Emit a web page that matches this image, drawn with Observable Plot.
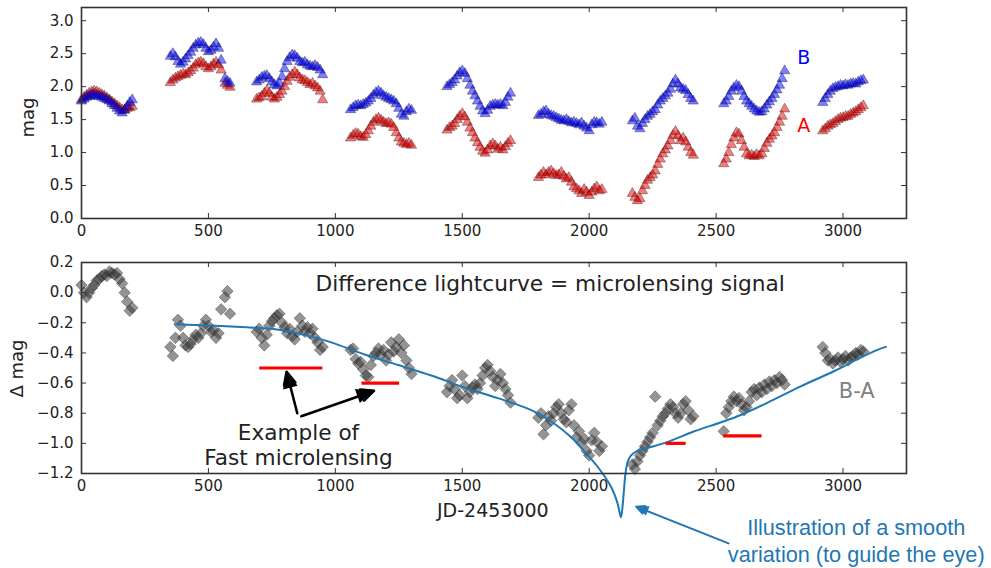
<!DOCTYPE html>
<html><head><meta charset="utf-8">
<script src="https://cdn.jsdelivr.net/npm/d3@7"></script>
<script src="https://cdn.jsdelivr.net/npm/@observablehq/plot@0.6"></script>
<style>
body{margin:0;background:#fff;}
#wrap{position:relative;width:991px;height:568px;overflow:hidden;font-family:"DejaVu Sans",sans-serif;background:#fff;}
#wrap svg{position:absolute;left:0;overflow:visible;}
.ax{position:absolute;color:#222;white-space:nowrap;font-family:"DejaVu Sans",sans-serif;}
</style></head><body><div id="wrap"></div>
<script>
// ---- data ----
const jd = [
 0,10,20,30,40,50,60,70,80,90,100,110,120,130,140,150,160,170,180,190,200,
 350,360,370,380,390,400,410,420,430,440,450,460,470,480,490,500,510,520,530,540,550,565,575,585,
 690,700,710,720,730,740,750,760,770,780,790,800,810,820,830,840,850,860,870,880,890,900,910,920,930,940,950,
 1060,1070,1080,1090,1100,1110,1120,1130,1140,1150,1160,1170,1180,1190,1200,1210,1220,1230,1240,1250,1260,1270,1280,1290,1300,
 1440,1450,1460,1470,1480,1490,1500,1510,1520,1530,1540,1550,1560,1570,1580,1590,1600,1610,1620,1630,1640,1650,1660,1670,1680,1690,
 1800,1810,1820,1830,1840,1850,1860,1870,1880,1890,1900,1910,1920,1930,1940,1950,1960,1970,1980,1990,2000,2010,2020,2030,2040,2050,
 2170,2180,2190,2200,2210,2220,2230,2240,2250,2260,2270,2280,2290,2300,2310,2320,2330,2340,2350,2360,2370,2380,2390,2400,2410,
 2530,2540,2550,2560,2570,2580,2590,2600,2610,2620,2630,2640,2650,2660,2670,2680,2690,2700,2710,2720,2730,2740,2750,2760,2770,
 2920,2930,2940,2950,2960,2970,2980,2990,3000,3010,3020,3030,3040,3050,3060,3070,3080
];
const magB = [
 1.78,1.81,1.84,1.85,1.87,1.88,1.86,1.85,1.84,1.82,1.80,1.78,1.74,1.71,1.67,1.63,1.60,1.64,1.70,1.76,1.80,
 2.46,2.50,2.45,2.38,2.34,2.37,2.42,2.47,2.52,2.58,2.63,2.66,2.67,2.64,2.58,2.53,2.55,2.60,2.65,2.58,2.40,2.12,2.08,2.05,
 2.07,2.10,2.14,2.16,2.17,2.12,2.07,2.03,2.01,2.05,2.15,2.27,2.38,2.44,2.48,2.47,2.43,2.38,2.36,2.37,2.33,2.31,2.30,2.32,2.29,2.25,2.18,
 1.65,1.68,1.71,1.72,1.71,1.73,1.75,1.78,1.82,1.87,1.91,1.93,1.90,1.86,1.84,1.82,1.80,1.78,1.74,1.67,1.58,1.55,1.62,1.66,1.64,
 2.00,2.03,2.06,2.10,2.16,2.21,2.24,2.20,2.12,2.02,1.93,1.86,1.78,1.70,1.63,1.59,1.64,1.70,1.72,1.73,1.72,1.73,1.71,1.76,1.84,1.90,
 1.56,1.58,1.62,1.63,1.58,1.56,1.55,1.53,1.51,1.49,1.48,1.50,1.47,1.45,1.46,1.44,1.42,1.45,1.40,1.37,1.33,1.42,1.46,1.45,1.43,1.46,
 1.48,1.52,1.40,1.36,1.44,1.50,1.55,1.58,1.62,1.65,1.72,1.78,1.82,1.86,1.90,1.96,2.04,2.10,2.04,1.98,1.96,1.94,1.88,1.82,1.78,
 1.74,1.78,1.85,1.93,1.98,2.02,2.00,1.93,1.85,1.78,1.74,1.70,1.66,1.63,1.61,1.62,1.66,1.72,1.77,1.82,1.88,1.95,2.02,2.12,2.24,
 1.76,1.82,1.88,1.93,1.97,1.99,2.00,2.02,2.01,2.03,2.02,2.04,2.05,2.04,2.07,2.09,2.10
];
const magA = [
 1.80,1.84,1.87,1.90,1.92,1.93,1.92,1.90,1.88,1.86,1.83,1.80,1.77,1.74,1.71,1.68,1.65,1.65,1.67,1.68,1.70,
 2.06,2.10,2.13,2.15,2.17,2.19,2.18,2.21,2.24,2.28,2.33,2.36,2.37,2.35,2.30,2.27,2.30,2.34,2.37,2.33,2.25,2.05,2.02,1.99,
 1.81,1.83,1.85,1.90,1.94,1.90,1.84,1.81,1.84,1.88,1.93,2.00,2.08,2.14,2.18,2.22,2.18,2.13,2.10,2.09,2.06,2.03,2.05,2.01,1.98,1.93,1.80,
 1.22,1.26,1.29,1.28,1.24,1.23,1.27,1.33,1.40,1.46,1.50,1.52,1.49,1.46,1.44,1.45,1.43,1.38,1.30,1.22,1.16,1.14,1.12,1.14,1.11,
 1.34,1.38,1.40,1.44,1.50,1.55,1.59,1.54,1.46,1.37,1.30,1.22,1.15,1.08,1.02,0.99,1.04,1.10,1.13,1.10,1.05,1.08,1.04,1.09,1.14,1.18,
 0.62,0.66,0.70,0.66,0.70,0.72,0.68,0.65,0.66,0.70,0.64,0.60,0.62,0.55,0.48,0.45,0.42,0.38,0.44,0.40,0.35,0.40,0.45,0.48,0.42,0.44,
 0.38,0.32,0.27,0.30,0.42,0.50,0.58,0.62,0.66,0.72,0.82,0.90,0.98,1.04,1.10,1.18,1.26,1.32,1.25,1.18,1.22,1.16,1.08,1.00,0.96,
 0.83,0.90,1.00,1.12,1.22,1.30,1.28,1.18,1.08,0.98,0.95,0.96,0.94,0.97,0.95,0.98,1.06,1.14,1.20,1.25,1.30,1.38,1.46,1.55,1.66,
 1.33,1.36,1.40,1.42,1.44,1.47,1.50,1.52,1.53,1.55,1.55,1.58,1.60,1.62,1.65,1.68,1.71
];
const dMag = [
 0.05,0.00,-0.03,0.00,0.03,0.05,0.08,0.09,0.11,0.12,0.11,0.14,0.13,0.12,0.13,0.09,0.06,0.00,-0.06,-0.12,-0.10,
 -0.36,-0.42,-0.30,-0.18,-0.22,-0.30,-0.35,-0.36,-0.34,-0.31,-0.28,-0.30,-0.27,-0.22,-0.18,-0.22,-0.26,-0.25,-0.30,-0.27,-0.11,-0.03,0.01,-0.14,
 -0.26,-0.24,-0.30,-0.35,-0.28,-0.22,-0.19,-0.17,-0.15,-0.14,-0.20,-0.23,-0.27,-0.24,-0.29,-0.31,-0.26,-0.17,-0.22,-0.26,-0.23,-0.27,-0.24,-0.30,-0.33,-0.38,-0.36,
 -0.38,-0.37,-0.44,-0.47,-0.46,-0.51,-0.55,-0.56,-0.48,-0.42,-0.40,-0.37,-0.41,-0.38,-0.45,-0.41,-0.33,-0.39,-0.36,-0.31,-0.40,-0.35,-0.45,-0.50,-0.54,
 -0.66,-0.62,-0.58,-0.64,-0.70,-0.68,-0.55,-0.62,-0.70,-0.66,-0.63,-0.61,-0.64,-0.60,-0.55,-0.50,-0.48,-0.52,-0.56,-0.62,-0.58,-0.54,-0.60,-0.64,-0.68,-0.73,
 -0.83,-0.80,-0.94,-0.88,-0.82,-0.85,-0.80,-0.76,-0.74,-0.80,-0.84,-0.86,-0.78,-0.74,-0.88,-0.96,-0.92,-1.00,-0.97,-1.05,-1.08,-0.98,-0.93,-0.99,-1.05,-1.02,
 -1.14,-1.17,-1.12,-1.08,-1.05,-1.02,-0.99,-0.96,-0.93,-0.69,-0.88,-0.85,-0.82,-0.80,-0.77,-0.74,-0.76,-0.80,-0.83,-0.80,-0.74,-0.72,-0.78,-0.84,-0.82,
 -0.92,-0.80,-0.76,-0.72,-0.69,-0.72,-0.70,-0.74,-0.78,-0.76,-0.72,-0.66,-0.64,-0.68,-0.63,-0.66,-0.61,-0.64,-0.59,-0.62,-0.58,-0.60,-0.56,-0.58,-0.61,
 -0.36,-0.40,-0.45,-0.44,-0.47,-0.45,-0.43,-0.46,-0.44,-0.42,-0.45,-0.43,-0.42,-0.40,-0.41,-0.38,-0.39
];
// smooth guide curve
const curveJD = [367,450,550,650,750,820,900,984,1115,1247,1378,1509,1640,1772,1863,1929,1995,2040,2080,2100,2112,2120,2125,2130,2136,2143,2152,2165,2190,2231,2310,2414,2520,2600,2703,2835,2966,3071,3136,3169];
const curveMag = [-0.21,-0.215,-0.222,-0.23,-0.24,-0.26,-0.29,-0.33,-0.41,-0.48,-0.55,-0.63,-0.70,-0.78,-0.87,-0.96,-1.08,-1.17,-1.27,-1.34,-1.40,-1.46,-1.49,-1.44,-1.33,-1.20,-1.12,-1.08,-1.05,-1.03,-0.99,-0.92,-0.86,-0.81,-0.73,-0.62,-0.52,-0.43,-0.38,-0.36];
// fast microlensing examples (red bars)
const barStart = [702,1105,2303,2530];
const barEnd = [951,1253,2382,2681];
const barMag = [-0.50,-0.60,-1.00,-0.95];
// ticks
const xTicks = [0,500,1000,1500,2000,2500,3000];
const magTicks = [0,0.5,1,1.5,2,2.5,3];
const dTicks = [-1.2,-1.0,-0.8,-0.6,-0.4,-0.2,0.0,0.2];
// labels
const seriesNames = ["B","A"];
const seriesColors = ["#0000ff","#ff0000"];
const seriesLabelJD = [2845,2845];
const seriesLabelMag = [2.44,1.41];
const titleText = "Difference lightcurve = microlensing signal";
const exampleText = "Example of\nFast microlensing";
const baText = "B-A";
const smoothText = "Illustration of a smooth\nvariation (to guide the eye)";
// annotation anchors (data coordinates)
const blackArrows = [{x1:850,y1:-0.80,x2:808,y2:-0.525},{x1:866,y1:-0.82,x2:1152,y2:-0.652}];
const blueArrow = [{x1:2549,y1:-1.664,x2:2185,y2:-1.42}];

// ---- build ----
const rows = jd.map((t,i)=>({jd:t, A:magA[i], B:magB[i], D:dMag[i]}));
const curve = curveJD.map((t,i)=>({jd:t, m:curveMag[i]}));
const bars = barStart.map((s,i)=>({x1:s, x2:barEnd[i], y:barMag[i]}));
const labs = seriesNames.map((n,i)=>({n, c:seriesColors[i], x:seriesLabelJD[i], y:seriesLabelMag[i]}));

const W = 991, ML = 81, MR = 85, innerW = W-ML-MR;
const font = {fontFamily:"DejaVu Sans", fontSize:"15px", color:"#222", background:"transparent"};

function frameMarks(ticksY, innerH){
  return [
    Plot.tickX(xTicks,{x:d=>d, insetTop:innerH-5, stroke:"#333", strokeWidth:1}),
    Plot.tickX(xTicks,{x:d=>d, insetBottom:innerH-5, stroke:"#333", strokeWidth:1}),
    Plot.tickY(ticksY,{y:d=>d, insetRight:innerW-5, stroke:"#333", strokeWidth:1}),
    Plot.tickY(ticksY,{y:d=>d, insetLeft:innerW-5, stroke:"#333", strokeWidth:1}),
    Plot.frame({stroke:"#333", strokeWidth:1.6})
  ];
}
// filled arrow heads placed through the plot's own scales
function arrowHeads(arrows, color, len, halfW){
  return (index, scales) => {
    const g = d3.create("svg:g");
    if (!scales || !scales.x || !scales.y) return g.node();
    for (const a of arrows){
      const x1=scales.x(a.x1), y1=scales.y(a.y1), x2=scales.x(a.x2), y2=scales.y(a.y2);
      const ang=Math.atan2(y2-y1,x2-x1);
      const bx=x2-len*Math.cos(ang), by=y2-len*Math.sin(ang);
      const px=-Math.sin(ang)*halfW, py=Math.cos(ang)*halfW;
      g.append("path").attr("d",`M${x2},${y2}L${bx+px},${by+py}L${bx-px},${by-py}Z`).attr("fill",color);
    }
    return g.node();
  };
}

const H1 = 245, MT1 = 7, MB1 = 27;
const topPlot = Plot.plot({
  width:W, height:H1, marginTop:MT1, marginBottom:MB1, marginLeft:ML, marginRight:MR,
  style:font,
  x:{domain:[0,3250]}, y:{domain:[0,3.2]},
  marks:[
    Plot.axisX({ticks:xTicks, tickSize:0, tickPadding:7, label:null, tickFormat:d=>String(d)}),
    Plot.axisY({ticks:magTicks, tickSize:0, tickPadding:8, label:null, tickFormat:d3.format(".1f")}),
    Plot.dot(rows,{x:"jd", y:"A", symbol:"triangle", r:3.8, fill:"#dd0000", fillOpacity:0.5, stroke:"#400000", strokeOpacity:0.45, strokeWidth:0.8}),
    Plot.dot(rows,{x:"jd", y:"B", symbol:"triangle", r:3.8, fill:"#0000ee", fillOpacity:0.5, stroke:"#000050", strokeOpacity:0.45, strokeWidth:0.8}),
    Plot.text(labs,{x:"x", y:"y", text:"n", fill:"c", fontSize:19}),
    ...frameMarks(magTicks, H1-MT1-MB1)
  ]
});

const H2 = 323, MT2 = 17, MB2 = 95;
const botPlot = Plot.plot({
  width:W, height:H2, marginTop:MT2, marginBottom:MB2, marginLeft:ML, marginRight:MR,
  style:font,
  x:{domain:[0,3250]}, y:{domain:[-1.2,0.2]},
  marks:[
    Plot.axisX({ticks:xTicks, tickSize:0, tickPadding:7, label:null, tickFormat:d=>String(d)}),
    Plot.axisY({ticks:dTicks, tickSize:0, tickPadding:8, label:null, tickFormat:d3.format(".1f")}),
    Plot.dot(rows,{x:"jd", y:"D", symbol:"diamond2", r:5.2, fill:"#3c3c3c", fillOpacity:0.55, stroke:"#111", strokeOpacity:0.4, strokeWidth:0.8}),
    Plot.line(curve,{x:"jd", y:"m", stroke:"#1f77b4", strokeWidth:2, curve:"catmull-rom"}),
    Plot.ruleY(bars,{y:"y", x1:"x1", x2:"x2", stroke:"#ff0000", strokeWidth:3.2}),
    Plot.arrow(blackArrows,{x1:"x1", y1:"y1", x2:"x2", y2:"y2", stroke:"black", strokeWidth:2.6, headLength:8, headAngle:50}),
    Plot.arrow(blueArrow,{x1:"x1", y1:"y1", x2:"x2", y2:"y2", stroke:"#1f77b4", strokeWidth:2, headLength:7, headAngle:50}),
    arrowHeads(blackArrows, "black", 17, 7.5),
    arrowHeads(blueArrow, "#1f77b4", 13, 5),
    Plot.text([titleText],{x:922, y:0.059, text:d=>d, textAnchor:"start", fontSize:21.7, fill:"#222"}),
    Plot.text([exampleText],{x:855, y:-1.01, text:d=>d, fontSize:21.6, lineHeight:1.13, fill:"#222"}),
    Plot.text([baText],{x:3054, y:-0.654, text:d=>d, fontSize:21, fill:"#808080"}),
    Plot.text([smoothText],{x:3052, y:-1.64, text:d=>d, fontSize:21.7, lineHeight:1.24, fill:"#1f77b4", fontFamily:"Liberation Sans"}),
    ...frameMarks(dTicks, H2-MT2-MB2)
  ]
});

const wrap = document.getElementById("wrap");
topPlot.style.top = "0px";
botPlot.style.top = H1+"px";
wrap.appendChild(topPlot);
wrap.appendChild(botPlot);

function addLabel(txt, css){
  const d = document.createElement("div");
  d.className = "ax"; d.textContent = txt;
  Object.assign(d.style, css);
  wrap.appendChild(d);
  return d;
}
const l1 = addLabel("mag",{fontSize:"18px"});
const l2 = addLabel("\u0394 mag",{fontSize:"18px"});
const l3 = addLabel("JD-2453000",{fontSize:"19px"});
function place(el, cx, cy, rot){
  const w = el.offsetWidth, h = el.offsetHeight;
  el.style.left = (cx - w/2)+"px"; el.style.top = (cy - h/2)+"px";
  if (rot) el.style.transform = "rotate(-90deg)";
}
place(l1, 27, 117, true);
place(l2, 16, 368, true);
place(l3, 493, 510, false);
</script></body></html>
